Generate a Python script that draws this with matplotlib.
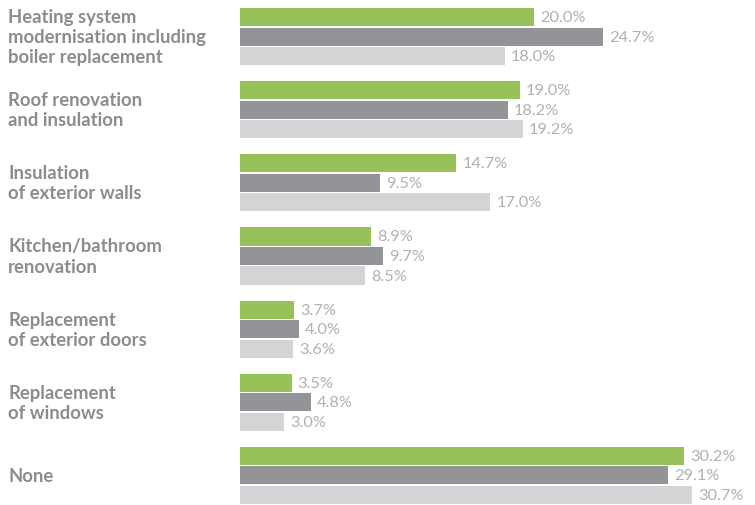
import matplotlib
matplotlib.use('AGG')
import matplotlib.pyplot as plt
import numpy as np

categories = ['Heating system\nmodernisation including\nboiler replacement',
              'Roof renovation\nand insulation',
              'Insulation\nof exterior walls',
              'Kitchen/bathroom\nrenovation',
              'Replacement\nof exterior doors',
              'Replacement\nof windows',
              'None']
series_green = [20.0, 19.0, 14.7, 8.9, 3.7, 3.5, 30.2]
series_dark = [24.7, 18.2, 9.5, 9.7, 4.0, 4.8, 29.1]
series_light = [18.0, 19.2, 17.0, 8.5, 3.6, 3.0, 30.7]

colors = ['#97c159', '#939497', '#d3d4d6']
plt.rcParams['font.family'] = ['Lato', 'DejaVu Sans']

fig = plt.figure(figsize=(7.55, 5.06), dpi=100)
ax = fig.add_axes([240 / 755, 0.5 / 506, 515 / 755, 497 / 506])

y = np.arange(len(categories))
pitch = 0.267
height = 0.247
for j, (vals, c) in enumerate(zip([series_green, series_dark, series_light], colors)):
    pos = y + (j - 1) * pitch
    ax.barh(pos, vals, height=height, color=c)
    for p, v in zip(pos, vals):
        ax.annotate(f'{v:.1f}%', (v, p), xytext=(4.5, 0), textcoords='offset points',
                    va='center', ha='left', fontsize=11.8, color='#b1b1b1')

ax.set_xlim(0, 35)
ax.set_ylim(6.4, -0.4)
ax.axis('off')

for i, cat in enumerate(categories):
    ax.annotate(cat, xy=(8 / 755, 0), xycoords=('figure fraction', 'data'),
                xytext=(8 / 755, i), textcoords=('figure fraction', 'data'),
                ha='left', va='center', fontsize=13.3, fontweight='bold',
                color='#8c8c8e', linespacing=1.22)

fig.savefig('out.png', dpi=100)
